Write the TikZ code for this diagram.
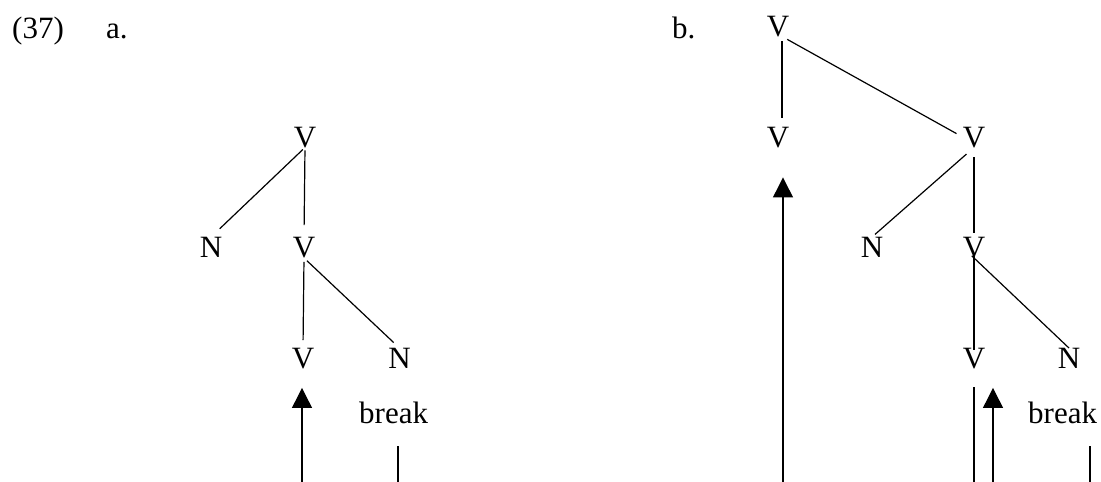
\documentclass[tikz,border=0pt]{standalone}
\usepackage{fontspec}
\setmainfont{Liberation Serif}
\usetikzlibrary{arrows.meta}
\begin{document}
\begin{tikzpicture}[x=1pt,y=-1pt,
  cat/.style={font=\fontsize{31}{37}\selectfont, inner sep=0pt, text height=20.5pt, text depth=0pt, anchor=center},
  word/.style={font=\fontsize{31}{37}\selectfont, inner sep=0pt, anchor=base west},
  edge/.style={line width=1.2pt},
  arr/.style={line width=1.2pt, -{Triangle[width=20pt,length=20pt]}}]
\useasboundingbox (0,0) rectangle (1101,482);
\node[word] (num) at (12,38) {(37)};
\node[word] (la) at (106,38) {a.};
\node[word] (lb) at (672,38) {b.};
% tree a
\node[cat] (aV1) at (305,137) {V};
\node[cat] (aN1) at (211,247.5) {N};
\node[cat] (aV2) at (304,247.5) {V};
\node[cat] (aV3) at (303,358.5) {V};
\node[cat] (aN2) at (399.5,358.5) {N};
\node[word] (abrk) at (359,423) {break};
\coordinate (aA) at (302,482);
\coordinate (aL) at (398,482);
\draw[edge,shorten <=3pt,shorten >=12pt] (aV1.south) -- (aV2.north);
\draw[edge,shorten <=3pt,shorten >=12pt] (aV1.south) -- (aN1.north);
\draw[edge,shorten <=4pt,shorten >=8pt] (aV2.south) -- (aV3.north);
\draw[edge,shorten <=4pt,shorten >=8pt] (aV2.south) -- (aN2.north);
\draw[arr,shorten >=19pt] (aA) -- (aA |- aV3.south);
\draw[edge,shorten >=22pt] (aL) -- (aL |- abrk.south);
% tree b
\node[cat] (bV1) at (778,26) {V};
\node[cat] (bV2) at (778,137) {V};
\node[cat] (bV3) at (974,137) {V};
\node[cat] (bN1) at (872,247.5) {N};
\node[cat] (bV4) at (974,247.5) {V};
\node[cat] (bV5) at (974,358.5) {V};
\node[cat] (bN2) at (1069,358.5) {N};
\node[word] (bbrk) at (1028,423) {break};
\coordinate (bL1) at (974,482);
\coordinate (bA1) at (783,482);
\coordinate (bA2) at (993,482);
\coordinate (bL2) at (1090,482);
\draw[edge,shorten <=5pt,shorten >=9pt] ([xshift=4pt]bV1.south) -- ([xshift=4pt]bV2.north);
\draw[edge,shorten <=6pt,shorten >=7pt] ([xshift=4pt]bV1.south) -- (bV3.west);
\draw[edge,shorten <=10pt,shorten >=4pt] (bV3.south) -- (bV4.north);
\draw[edge,shorten <=10pt,shorten >=4pt] (bV3.south) -- (bN1.north);
\draw[edge,shorten <=-5pt,shorten >=-2pt] (bV4.south) -- (bV5.north);
\draw[edge,shorten <=-3pt] (bV4.south) -- (bN2.north);
\draw[edge,shorten >=18pt] (bL1) -- (bL1 |- bV5.south);
\draw[arr,shorten >=19pt] (bA2) -- (bA2 |- bV5.south);
\draw[arr,shorten >=30pt] (bA1) -- (bA1 |- bV2.south);
\draw[edge,shorten >=22pt] (bL2) -- (bL2 |- bbrk.south);
\end{tikzpicture}
\end{document}
